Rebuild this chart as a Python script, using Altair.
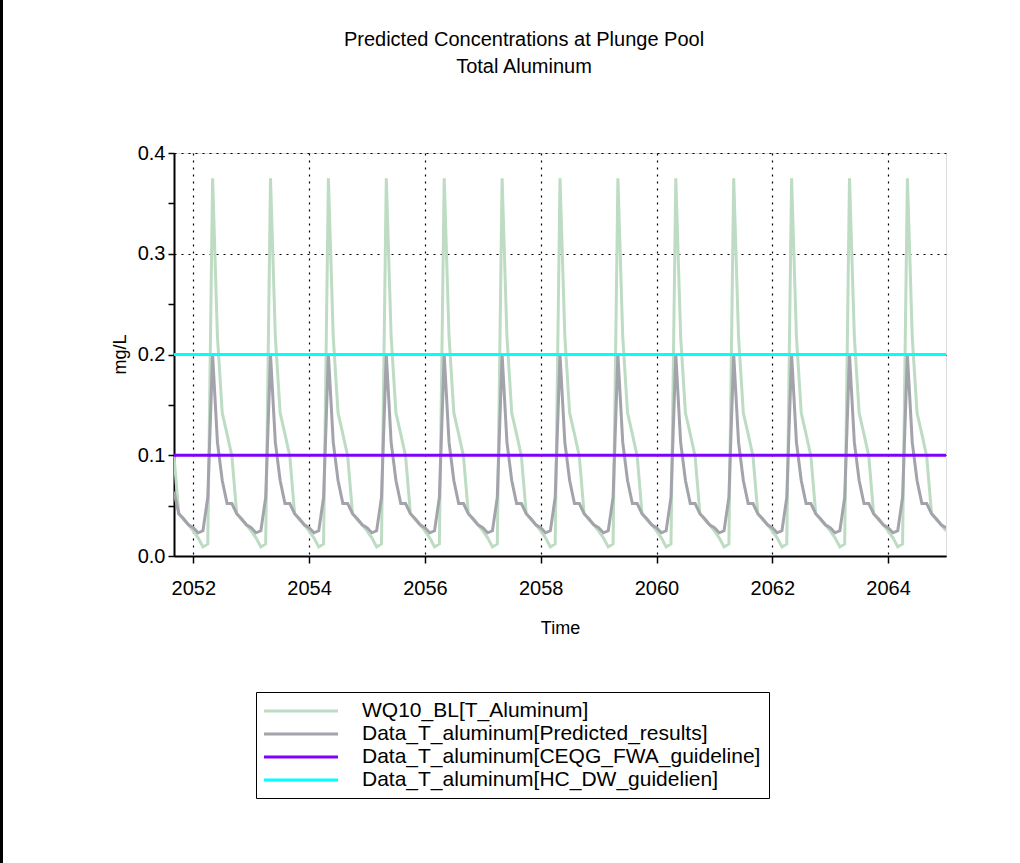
import altair as alt
import pandas as pd

# ---------------- data ----------------
series_names = [
    "WQ10_BL[T_Aluminum]",
    "Data_T_aluminum[Predicted_results]",
    "Data_T_aluminum[CEQG_FWA_guideline]",
    "Data_T_aluminum[HC_DW_guidelien]",
]
series_colors = ["#bddcc3", "#a3a3ab", "#8000ff", "#00ffff"]

# monthly values (Jan..Dec), same pattern every year
wq10_monthly = [0.025, 0.018, 0.009, 0.012, 0.375, 0.218, 0.142, 0.121, 0.099, 0.042, 0.036, 0.031]
pred_monthly = [0.028, 0.023, 0.025, 0.058, 0.200, 0.113, 0.075, 0.052, 0.052, 0.042, 0.037, 0.031]
pred_first_value = 0.064   # first point (Sep 2051)
ceqg_value = 0.1
hcdw_value = 0.2
start_year, start_month = 2051, 9
end_year, end_month = 2065, 1

x_tick_values = [2052, 2054, 2056, 2058, 2060, 2062, 2064]
y_tick_values = [0.0, 0.05, 0.1, 0.15, 0.2, 0.25, 0.3, 0.35, 0.4]

title_lines = ["Predicted Concentrations at Plunge Pool", "Total Aluminum"]

# ---------------- build table ----------------
rows = []
yy, mm = start_year, start_month
first = True
while (yy, mm) <= (end_year, end_month):
    t = yy + (mm - 1) / 12
    rows.append({"t": t, "v": wq10_monthly[mm - 1], "s": series_names[0]})
    rows.append({"t": t, "v": pred_first_value if first else pred_monthly[mm - 1], "s": series_names[1]})
    rows.append({"t": t, "v": ceqg_value, "s": series_names[2]})
    rows.append({"t": t, "v": hcdw_value, "s": series_names[3]})
    first = False
    mm += 1
    if mm > 12:
        mm = 1
        yy += 1
df = pd.DataFrame(rows)

FONT = "Liberation Sans"

color = alt.Color(
    "s:N",
    scale=alt.Scale(domain=series_names, range=series_colors),
    legend=alt.Legend(
        orient="none", legendX=82, legendY=539, title=None,
        symbolType="M-4,0H4", symbolSize=342, symbolStrokeWidth=3, symbolOffset=26,
        labelFont=FONT, labelFontSize=21, labelColor="black", labelLimit=0,
        labelOffset=50, padding=8, strokeColor="black", rowPadding=2,
    ),
)

x = alt.X(
    "t:Q",
    scale=alt.Scale(domain=[start_year + (start_month - 1) / 12, end_year + (end_month - 1) / 12], nice=False, zero=False),
    axis=alt.Axis(
        values=x_tick_values, format="d", title="Time", grid=True,
        gridColor="black", gridDash=[2, 5], gridWidth=1.2,
        domainColor="black", domainWidth=2, tickColor="black", tickWidth=1.5, tickSize=7,
        labelFont=FONT, labelFontSize=20, labelColor="black", labelPadding=15,
        titleFont=FONT, titleFontSize=18, titleFontWeight="normal", titleColor="black", titlePadding=21,
    ),
)
y = alt.Y(
    "v:Q",
    scale=alt.Scale(domain=[0, 0.4], nice=False),
    axis=alt.Axis(
        values=y_tick_values, title="mg/L",
        labelExpr="round(datum.value*20) % 2 == 0 ? format(datum.value, '.1f') : ''",
        grid=True, gridColor="black", gridDash=[2, 5], gridWidth=1.2,
        gridOpacity={"condition": {"test": "round(datum.value*20) % 2 == 0", "value": 1}, "value": 0},
        domainColor="black", domainWidth=2, tickColor="black", tickWidth=1.5, tickSize=6,
        labelFont=FONT, labelFontSize=20, labelColor="black", labelPadding=3,
        titleFont=FONT, titleFontSize=18, titleFontWeight="normal", titleColor="black",
        titleX=-54, titleY=201, titleAngle=270, titleAlign="center", titleBaseline="middle",
    ),
)

base = alt.Chart(df)
layers = [
    base.transform_filter(alt.datum.s == name).mark_line(strokeWidth=3, clip=True).encode(x=x, y=y, color=color)
    for name in series_names
]

frame_line = alt.Chart(alt.Data(values=[{}])).mark_rule(color="black", strokeWidth=3).encode(
    x=alt.value(-172.5), y=alt.value(-153), y2=alt.value(710)
)

chart = alt.layer(*layers, frame_line).properties(
    width=772,
    height=403,
    autosize=alt.AutoSizeParams(type="none"),
    padding={"left": 174, "top": 153, "right": 74, "bottom": 307},
    title=alt.TitleParams(
        text=title_lines, font=FONT, fontSize=20, fontWeight="normal", color="black",
        anchor="middle", frame="group", baseline="alphabetic", offset=0, dy=94, dx=-36, lineHeight=27,
    ),
).configure_view(stroke="black", strokeWidth=2).configure_legend(strokeWidth=1.5).configure(background="white")

chart.save("out.html", embed_options={"renderer": "svg", "actions": False})
